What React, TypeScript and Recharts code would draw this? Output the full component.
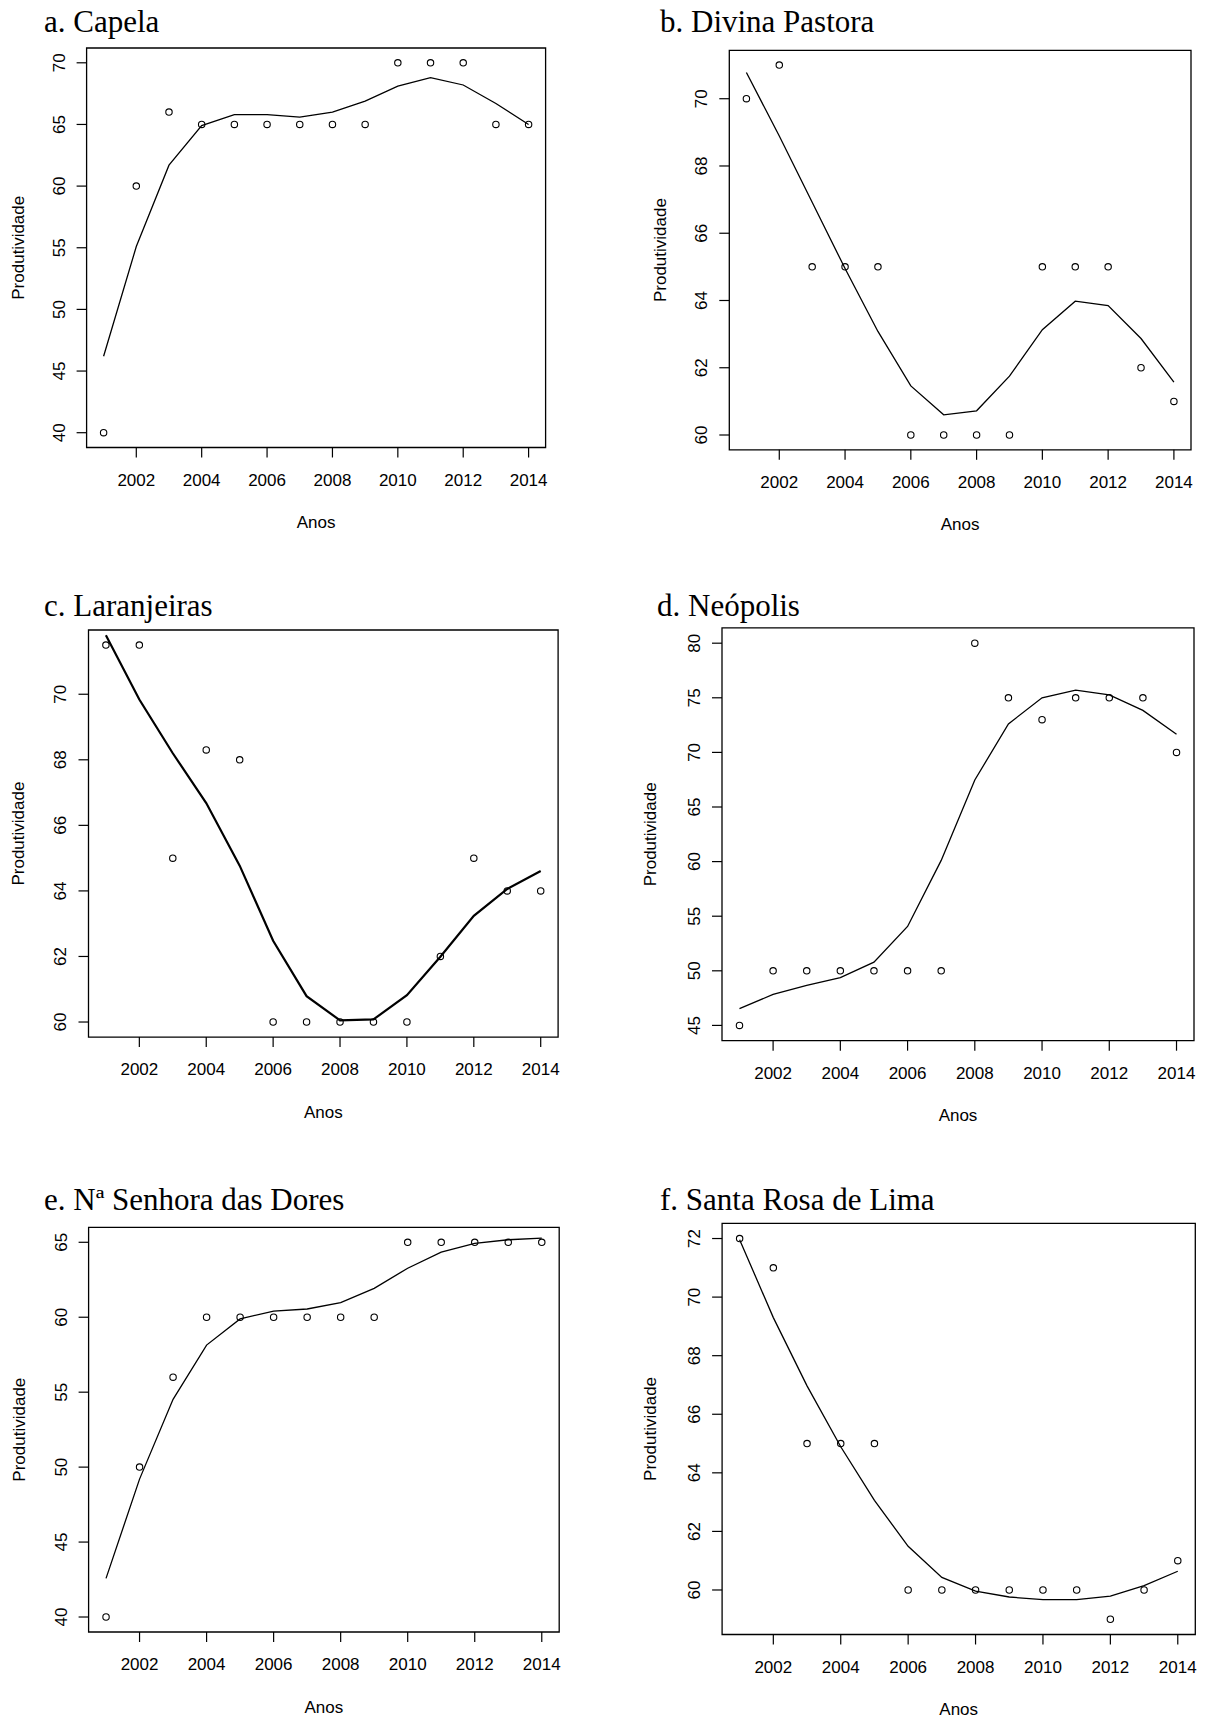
import React from 'react';
import { ComposedChart, Line, Scatter, XAxis, YAxis, ReferenceArea } from 'recharts';

const anos = [2001, 2002, 2003, 2004, 2005, 2006, 2007, 2008, 2009, 2010, 2011, 2012, 2013, 2014];
const anosTicks = [2002, 2004, 2006, 2008, 2010, 2012, 2014];

// observado / ajustado por município
const capelaObs = [40, 60, 66, 65, 65, 65, 65, 65, 65, 70, 70, 70, 65, 65];
const capelaAjuste = [46.2, 55.1, 61.7, 64.9, 65.8, 65.8, 65.6, 66.0, 66.9, 68.1, 68.8, 68.2, 66.7, 65.0];

const divinaObs = [70, 71, 65, 65, 65, 60, 60, 60, 60, 65, 65, 65, 62, 61];
const divinaAjuste = [70.78, 68.89, 66.92, 64.95, 63.08, 61.46, 60.6, 60.72, 61.75, 63.13, 63.98, 63.85, 62.87, 61.57];

const laranjeirasObs = [71.5, 71.5, 65, 68.3, 68, 60, 60, 60, 60, 60, 62, 65, 64, 64];
const laranjeirasAjuste = [71.8, 69.84, 68.2, 66.68, 64.77, 62.48, 60.79, 60.05, 60.08, 60.82, 61.99, 63.24, 64.06, 64.61];

const neopolisObs = [45, 50, 50, 50, 50, 50, 50, 80, 75, 73, 75, 75, 75, 70];
const neopolisAjuste = [46.54, 47.84, 48.66, 49.38, 50.79, 54.06, 60.11, 67.47, 72.61, 75.0, 75.71, 75.26, 73.85, 71.66];

const doresObs = [40, 50, 56, 60, 60, 60, 60, 60, 60, 65, 65, 65, 65, 65];
const doresAjuste = [42.58, 49.2, 54.52, 58.14, 59.89, 60.41, 60.55, 60.98, 61.93, 63.27, 64.34, 64.93, 65.17, 65.28];

const santaRosaObs = [72, 71, 65, 65, 65, 60, 60, 60, 60, 60, 60, 59, 60, 61];
const santaRosaAjuste = [71.96, 69.3, 66.97, 64.89, 63.06, 61.49, 60.43, 59.96, 59.76, 59.67, 59.67, 59.79, 60.15, 60.64];

const SANS = "'Liberation Sans', Arial, sans-serif";
const SERIF = "'Liberation Serif', 'Times New Roman', serif";

const painels = [
  { titulo: 'a. Capela', obs: capelaObs, ajuste: capelaAjuste, yDom: [38.8, 71.2], yTicks: [40, 45, 50, 55, 60, 65, 70],
    ox: 0, oy: 0, h: 580, box: { l: 86.6, t: 48, r: 545.6, b: 447.5 }, tx: 44, ty: 32, yl: 24, lw: 1.3 },
  { titulo: 'b. Divina Pastora', obs: divinaObs, ajuste: divinaAjuste, yDom: [59.56, 71.44], yTicks: [60, 62, 64, 66, 68, 70],
    ox: 604, oy: 0, h: 580, box: { l: 729.3, t: 50.3, r: 1191, b: 449.8 }, tx: 660, ty: 32, yl: 666, lw: 1.3 },
  { titulo: 'c. Laranjeiras', obs: laranjeirasObs, ajuste: laranjeirasAjuste, yDom: [59.54, 71.96], yTicks: [60, 62, 64, 66, 68, 70],
    ox: 0, oy: 580, h: 580, box: { l: 88.5, t: 630, r: 558.1, b: 1037.1 }, tx: 44, ty: 616, yl: 24, lw: 2.2 },
  { titulo: 'd. Neópolis', obs: neopolisObs, ajuste: neopolisAjuste, yDom: [43.6, 81.4], yTicks: [45, 50, 55, 60, 65, 70, 75, 80],
    ox: 604, oy: 580, h: 580, box: { l: 722, t: 627.9, r: 1194, b: 1040.7 }, tx: 657, ty: 616, yl: 656, lw: 1.3 },
  { titulo: 'e. Nª Senhora das Dores', obs: doresObs, ajuste: doresAjuste, yDom: [39, 66], yTicks: [40, 45, 50, 55, 60, 65],
    ox: 0, oy: 1160, h: 562, box: { l: 88.6, t: 1227.3, r: 559.2, b: 1632 }, tx: 44, ty: 1209.5, yl: 25, lw: 1.3 },
  { titulo: 'f. Santa Rosa de Lima', obs: santaRosaObs, ajuste: santaRosaAjuste, yDom: [58.48, 72.52], yTicks: [60, 62, 64, 66, 68, 70, 72],
    ox: 604, oy: 1160, h: 562, box: { l: 722.1, t: 1223.3, r: 1195.3, b: 1634.5 }, tx: 660, ty: 1209.5, yl: 656, lw: 1.3 },
];

const YTick = (props: any) => {
  const { x, y, payload } = props;
  return (
    <text x={x} y={y} transform={`rotate(-90 ${x} ${y})`} textAnchor="middle" fontSize={17} fontFamily={SANS} fill="#000">
      {payload.value}
    </text>
  );
};

const Circulo = (props: any) => (
  <circle cx={props.cx} cy={props.cy} r={3.2} fill="none" stroke="#000" strokeWidth={1.1} />
);

const Painel = ({ p }: { p: any }) => {
  const W = 605;
  const data = anos.map((ano, i) => ({ ano, obs: p.obs[i], ajuste: p.ajuste[i] }));
  const { l, t, r, b } = p.box;
  return (
    <div style={{ position: 'absolute', left: p.ox, top: p.oy }}>
      <ComposedChart width={W} height={p.h} data={data}
        margin={{ top: t - p.oy, right: p.ox + W - r, bottom: 0, left: 0 }}>
        <XAxis type="number" dataKey="ano" domain={[2000.48, 2014.52]} ticks={anosTicks} interval={0}
          allowDataOverflow axisLine={false} tickLine={{ stroke: '#000', strokeWidth: 1.2 }} tickSize={10} tickMargin={16}
          tick={{ fill: '#000', fontSize: 17, fontFamily: SANS }} height={p.oy + p.h - b} />
        <YAxis type="number" domain={p.yDom} ticks={p.yTicks} interval={0} allowDataOverflow axisLine={false}
          tickLine={{ stroke: '#000', strokeWidth: 1.2 }} tickSize={10} tickMargin={12} tick={<YTick />} width={l - p.ox} />
        <ReferenceArea x1={2000.48} x2={2014.52} y1={p.yDom[0]} y2={p.yDom[1]} fill="none" stroke="#000" strokeWidth={1.3} ifOverflow="visible" />
        <Line dataKey="ajuste" type="linear" stroke="#000" strokeWidth={p.lw} dot={false} isAnimationActive={false} />
        <Scatter dataKey="obs" shape={<Circulo />} isAnimationActive={false} />
      </ComposedChart>
    </div>
  );
};

export default function App() {
  return (
    <div style={{ position: 'absolute', left: 0, top: 0, width: 1209, height: 1722, background: '#fff' }}>
      {painels.map((p) => <Painel key={p.titulo} p={p} />)}
      <svg width={1209} height={1722} style={{ position: 'absolute', left: 0, top: 0, pointerEvents: 'none' }}>
        {painels.map((p) => {
          const cy = (p.box.t + p.box.b) / 2;
          const cx = (p.box.l + p.box.r) / 2;
          return (
            <g key={p.titulo}>
              <text x={p.tx} y={p.ty} fontSize={31} fontFamily={SERIF} fill="#000">{p.titulo}</text>
              <text x={cx} y={p.box.b + 80.5} textAnchor="middle" fontSize={17} fontFamily={SANS} fill="#000">Anos</text>
              <text x={p.yl} y={cy} transform={`rotate(-90 ${p.yl} ${cy})`} textAnchor="middle" fontSize={17} fontFamily={SANS} fill="#000">Produtividade</text>
            </g>
          );
        })}
      </svg>
    </div>
  );
}
